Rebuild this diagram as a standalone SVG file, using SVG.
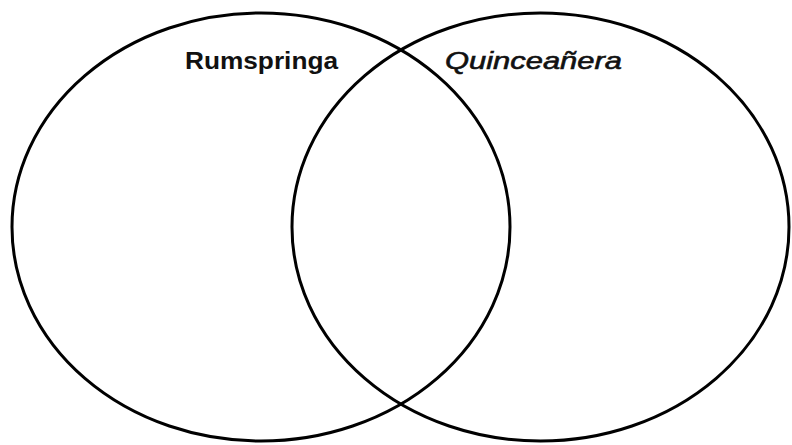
<svg xmlns="http://www.w3.org/2000/svg" width="792" height="445" viewBox="0 0 792 445">
<style>
.c{fill:none;stroke:#000;stroke-width:3}
.t{font-family:"Liberation Sans",Arial,sans-serif;font-size:24px;fill:#111}
</style>
<rect width="792" height="445" fill="#fff"/>
<g id="rumspringa">
<ellipse class="c" cx="261" cy="227" rx="249" ry="214"/>
<text class="t" x="185" y="69" font-weight="bold" textLength="153" lengthAdjust="spacingAndGlyphs">Rumspringa</text>
</g>
<g id="quinceanera">
<ellipse class="c" cx="540.5" cy="227" rx="248.5" ry="214"/>
<text class="t" x="445" y="69" font-style="italic" stroke="#111" stroke-width="0.6" textLength="177" lengthAdjust="spacingAndGlyphs">Quinceañera</text>
</g>
<g id="connectors"/>
</svg>
